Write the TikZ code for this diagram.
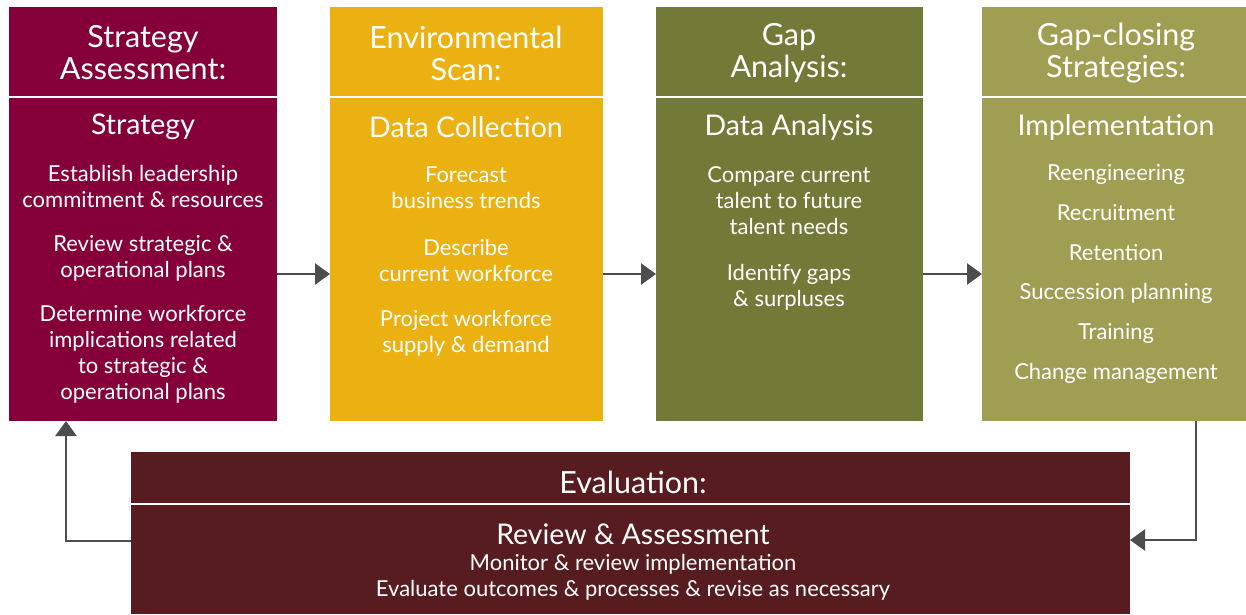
\documentclass[tikz,border=0pt]{standalone}
\usepackage{fontspec}
\setmainfont{Lato}
\usetikzlibrary{arrows.meta,calc}
\definecolor{cA}{HTML}{850038}
\definecolor{cB}{HTML}{EBB012}
\definecolor{cC}{HTML}{737936}
\definecolor{cD}{HTML}{A09E52}
\definecolor{cE}{HTML}{561C1F}
\definecolor{cArr}{HTML}{4D4D4D}
\tikzset{
  box/.style={rectangle, inner sep=0pt, outer sep=0pt, anchor=north west},
  divider/.style={draw=white, line width=2.5pt},
  ttl/.style={text=white, align=center, font=\fontsize{30.5}{32}\selectfont, inner sep=0pt},
  hdr/.style={text=white, align=center, font=\fontsize{28.5}{30}\selectfont, inner sep=0pt},
  itm/.style={text=white, align=center, font=\fontsize{22}{26}\selectfont, inner sep=0pt},
  arr/.style={draw=cArr, line width=2.6pt, -{Triangle[length=15pt,width=21pt]}},
}
\begin{document}
\begin{tikzpicture}[x=1pt,y=-1pt]
\useasboundingbox (0,0) rectangle (1246,614);
% boxes
\node[box, fill=cA, minimum width=268pt, minimum height=414pt] (b1) at (9,7) {};
\node[box, fill=cB, minimum width=273pt, minimum height=414pt] (b2) at (330,7) {};
\node[box, fill=cC, minimum width=267pt, minimum height=414pt] (b3) at (656,7) {};
\node[box, fill=cD, minimum width=264pt, minimum height=414pt] (b4) at (982,7) {};
\node[box, fill=cE, minimum width=999pt, minimum height=162pt] (ev) at (131,452) {};
% dividers
\draw[divider] (b1.west |- 0,97) -- (b1.east |- 0,97);
\draw[divider] (b2.west |- 0,97) -- (b2.east |- 0,97);
\draw[divider] (b3.west |- 0,97) -- (b3.east |- 0,97);
\draw[divider] (b4.west |- 0,97) -- (b4.east |- 0,97);
\draw[divider] (ev.west |- 0,504) -- (ev.east |- 0,504);
% box 1
\node[ttl] (t1) at (143,53) {Strategy\\Assessment:};
\node[hdr] (h1) at (143,127) {Strategy};
\node[itm] (i11) at (143,186) {Establish leadership\\commitment \& resources};
\node[itm] (i12) at (143,258) {Review strategic \&\\operational plans};
\node[itm] (i13) at (143,354) {Determine workforce\\implications related\\to strategic \&\\operational plans};
% box 2
\node[ttl] (t2) at (466,53) {Environmental\\Scan:};
\node[hdr] (h2) at (466,127) {Data Collection};
\node[itm] (i21) at (466,188) {Forecast\\business trends};
\node[itm] (i22) at (466,260) {Describe\\current workforce};
\node[itm] (i23) at (466,333) {Project workforce\\supply \& demand};
% box 3
\node[ttl] (t3) at (789,53) {Gap\\Analysis:};
\node[hdr] (h3) at (789,127) {Data Analysis};
\node[itm] (i31) at (789,201) {Compare current\\talent to future\\talent needs};
\node[itm] (i32) at (789,287) {Identify gaps\\\& surpluses};
% box 4
\node[ttl] (t4) at (1116,53) {Gap-closing\\Strategies:};
\node[hdr] (h4) at (1116,127) {Implementation};
\node[itm] (i41) at (1116,174) {Reengineering};
\node[itm] (i42) at (1116,213) {Recruitment};
\node[itm] (i43) at (1116,253) {Retention};
\node[itm] (i44) at (1116,293) {Succession planning};
\node[itm] (i45) at (1116,333) {Training};
\node[itm] (i46) at (1116,373) {Change management};
% evaluation
\node[ttl] (t5) at (633,482) {Evaluation:};
\node[hdr] (h5) at (633,534) {Review \& Assessment};
\node[itm] (i51) at (633,577) {Monitor \& review implementation\\Evaluate outcomes \& processes \& revise as necessary};
% connectors
\coordinate (ay) at (0,274);
\draw[arr] (b1.east |- ay) -- (b2.west |- ay);
\draw[arr] (b2.east |- ay) -- (b3.west |- ay);
\draw[arr] (b3.east |- ay) -- (b4.west |- ay);
\coordinate (rx) at (1196,540);
\draw[arr] (b4.south -| rx) -- (rx) -- (ev.east |- rx);
\coordinate (lx) at (66,541);
\draw[arr] (ev.west |- lx) -- (lx) -- (b1.south -| lx);
\end{tikzpicture}
\end{document}
